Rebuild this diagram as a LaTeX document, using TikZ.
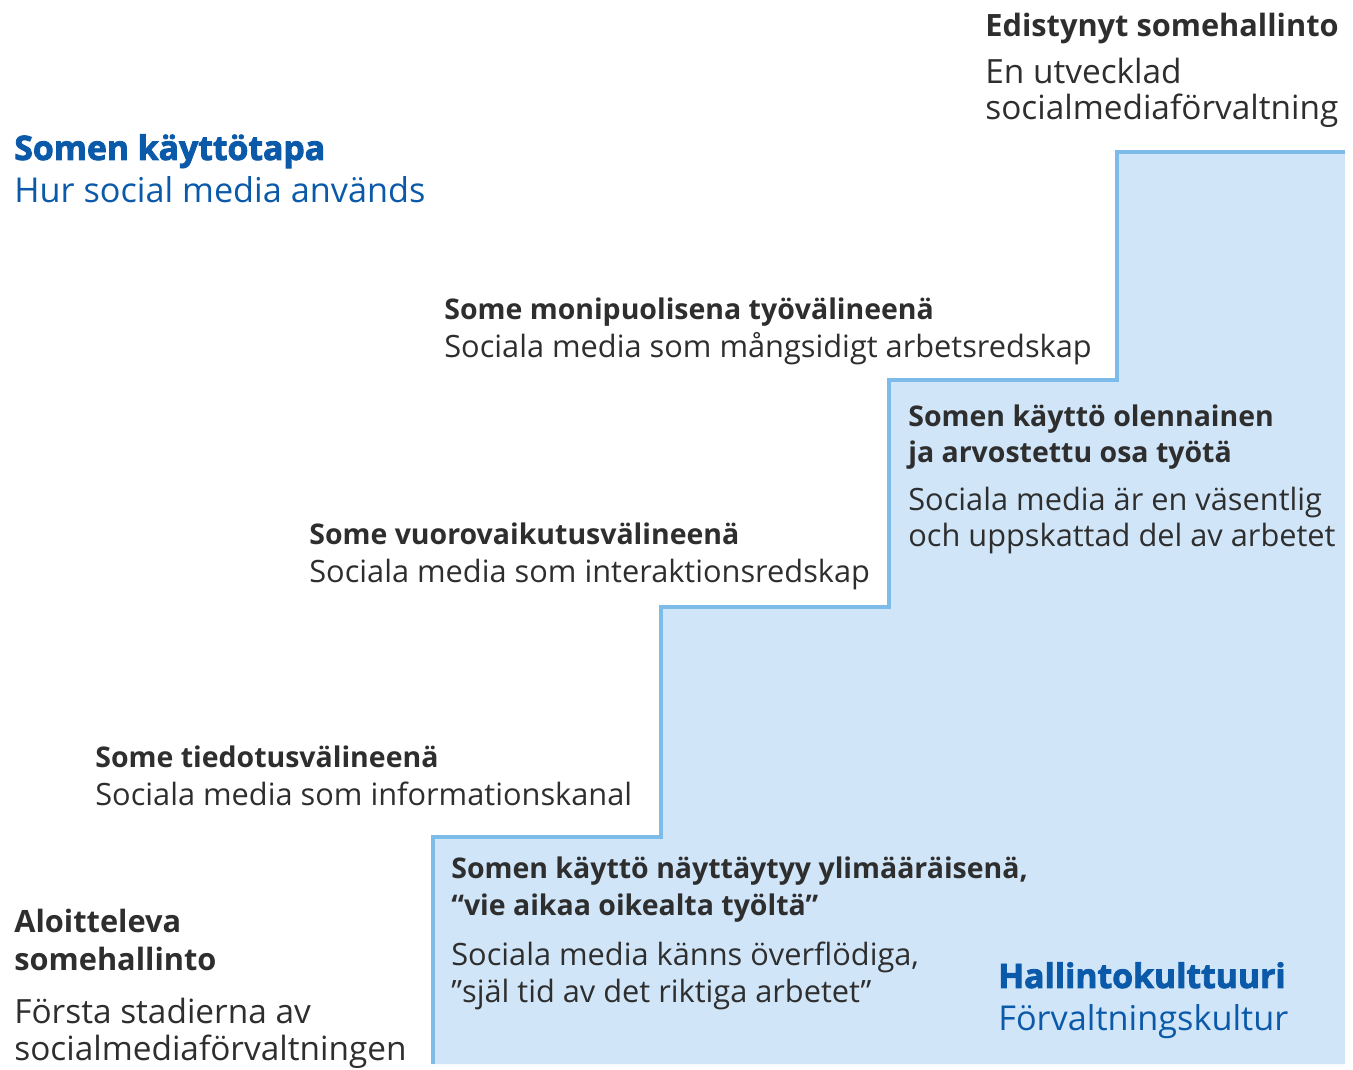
\documentclass[tikz,border=0pt]{standalone}
\usepackage{fontspec}
\setmainfont{Open Sans}
\newfontfamily\heavyfont{Open Sans}[FakeBold=2.5]
\usetikzlibrary{positioning}
\definecolor{stepfill}{HTML}{D0E5F8}
\definecolor{stepline}{HTML}{7DBBE9}
\definecolor{titleblue}{HTML}{0B5AA9}
\definecolor{textgray}{HTML}{2E2E2E}
\tikzset{
  head/.style={anchor=base west,inner sep=0pt,align=left,text=textgray,
    font=\fontsize{16.2}{20.5}\selectfont\bfseries},
  body/.style={anchor=base west,inner sep=0pt,align=left,text=textgray,
    font=\fontsize{17.5}{21}\selectfont},
  levelhead/.style={head,font=\fontsize{17.5}{21.5}\selectfont\bfseries},
  levelbody/.style={body,font=\fontsize{19}{20.5}\selectfont},
  title/.style={anchor=base west,inner sep=0pt,align=left,text=titleblue,
    font=\fontsize{19.2}{23.5}\selectfont\heavyfont\bfseries},
  subtitle/.style={anchor=base west,inner sep=0pt,align=left,text=titleblue,
    font=\fontsize{19.5}{23.5}\selectfont},
}
\begin{document}
\begin{tikzpicture}[x=0.02cm,y=-0.02cm]
\useasboundingbox (0,0) rectangle (1353,1070);

\coordinate (S0) at (433,1064);
\coordinate (S1) at (433,837);
\coordinate (S2) at (661,837);
\coordinate (S3) at (661,607);
\coordinate (S4) at (889,607);
\coordinate (S5) at (889,380);
\coordinate (S6) at (1117,380);
\coordinate (S7) at (1117,152);
\coordinate (S8) at (1345,152);
\coordinate (S9) at (1345,1064);

\fill[stepfill](S0)--(S1)--(S2)--(S3)--(S4)--(S5)--(S6)--(S7)--(S8)--(S9)--cycle;
\draw[stepline,line width=2.4pt](S0)--(S1)--(S2)--(S3)--(S4)--(S5)--(S6)--(S7)--(S8);

% axes
\node[title] (use) at (14,160) {Somen käyttötapa};
\node[subtitle] (usesv) at (14,203) {Hur social media används};
\node[title] (culture) at (998,988) {Hallintokulttuuri};
\node[subtitle] (culturesv) at (998,1030) {Förvaltningskultur};

% levels (base = last line)
\node[levelhead] (lvA) at (14,970) {Aloitteleva\\somehallinto};
\node[levelbody] (lvAsv) at (14,1060) {Första stadierna av\\socialmediaförvaltningen};
\node[levelhead] (lvB) at (985,37) {Edistynyt somehallinto};
\node[levelbody] (lvBsv) at (985,120) {En utvecklad\\socialmediaförvaltning};

% steps
\node[head] (st1) at (451,915) {Somen käyttö näyttäytyy ylimääräisenä,\\“vie aikaa oikealta työltä”};
\node[body] (st1sv) at (451,1002) {Sociala media känns överflödiga,\\”själ tid av det riktiga arbetet”};
\node[head] (st2) at (95,768) {Some tiedotusvälineenä};
\node[body] (st2sv) at (95,806) {Sociala media som informationskanal};
\node[head] (st3) at (309,545) {Some vuorovaikutusvälineenä};
\node[body] (st3sv) at (309,583) {Sociala media som interaktionsredskap};
\node[head] (st4) at (908,463) {Somen käyttö olennainen\\ja arvostettu osa työtä};
\node[body] (st4sv) at (908,547) {Sociala media är en väsentlig\\och uppskattad del av arbetet};
\node[head] (st5) at (444,320) {Some monipuolisena työvälineenä};
\node[body] (st5sv) at (444,358) {Sociala media som mångsidigt arbetsredskap};

\end{tikzpicture}
\end{document}
